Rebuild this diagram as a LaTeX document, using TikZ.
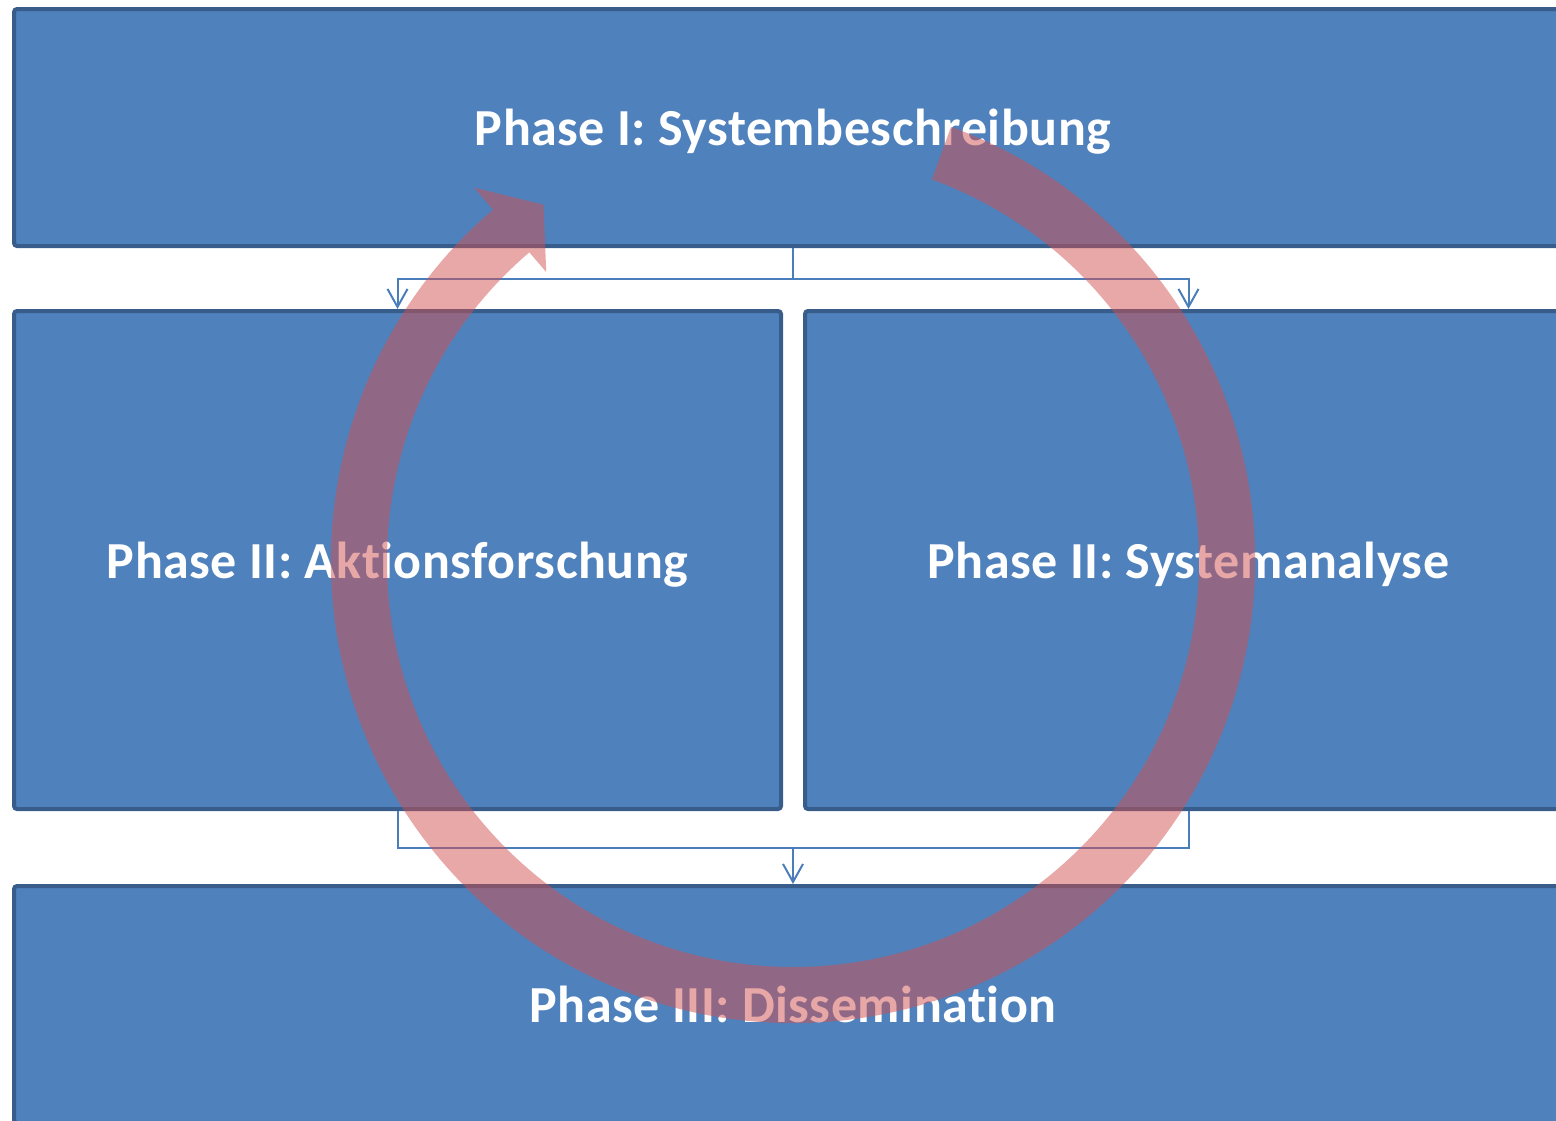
\documentclass[tikz,border=0pt]{standalone}
\usepackage{fontspec}
\setmainfont{Carlito}[Ligatures=NoCommon,LetterSpace=1]
\usepackage{xcolor}
\usetikzlibrary{positioning,arrows.meta,calc}
\definecolor{phasefill}{HTML}{4F81BD}
\definecolor{phaseline}{HTML}{385D8A}
\definecolor{linkblue}{HTML}{4A7EBB}
\definecolor{cyclered}{RGB}{209,81,81}
\tikzset{
  phasebox/.style={draw=phaseline,fill=phasefill,line width=2pt,rounded corners=1.5pt,inner sep=0pt},
  widebox/.style={phasebox,minimum width=779pt,minimum height=118.5pt},
  halfbox/.style={phasebox,minimum width=383.5pt,minimum height=249pt},
  phasetext/.style={anchor=base,text=white,font=\fontsize{26}{31}\selectfont\bfseries,inner sep=0pt},
  link/.style={draw=linkblue,line width=1pt},
  cycleband/.style={fill=cyclered,fill opacity=0.5},
}

\begin{document}
\begin{tikzpicture}[x=0.5pt,y=0.5pt,>={Straight Barb[length=9pt,width=10pt]}]
  \useasboundingbox (0,0) rectangle (1556,-1120);
  \clip (0,0) rectangle (1556,-1120);
  % the four phases
  \node[widebox] (sys) at (793,-127.5) {};
  \node[halfbox] (akt) at (397.5,-560) {};
  \node[halfbox] (ana) at (1188.5,-560) {};
  \node[widebox] (dis) at (793,-1004.5) {};
  \node[phasetext] (systxt) at ([yshift=-9pt]sys.center) {Phase I: Systembeschreibung};
  \node[phasetext] (akttxt) at ([yshift=-9pt]akt.center) {Phase II: Aktionsforschung};
  \node[phasetext] (anatxt) at ([yshift=-9pt]ana.center) {Phase II: Systemanalyse};
  \node[phasetext] (distxt) at ([yshift=-9pt]dis.center) {Phase III: Dissemination};
  % connectors
  \coordinate (split) at (793,-279);
  \coordinate (join) at (793,-848);
  \draw[link,->] (sys.south) -- (split) -| (akt.north);
  \draw[link,->] (split) -| (ana.north);
  \draw[link] (akt.south) |- (join) -| (ana.south);
  \draw[link,->] (join) -- (dis.north);
  % circular arrow on top
  \coordinate (c) at (793,-561);
  \fill[cycleband] ($(c)+(70:462)$) arc[start angle=70,end angle=-229.5,radius=462]
    -- ($(c)+(130.5:491)$) -- ($(c)+(125:435)$) -- ($(c)+(130.5:380)$)
    -- ($(c)+(130.5:406)$) arc[start angle=-229.5,end angle=70,radius=406] -- cycle;
\end{tikzpicture}
\end{document}
